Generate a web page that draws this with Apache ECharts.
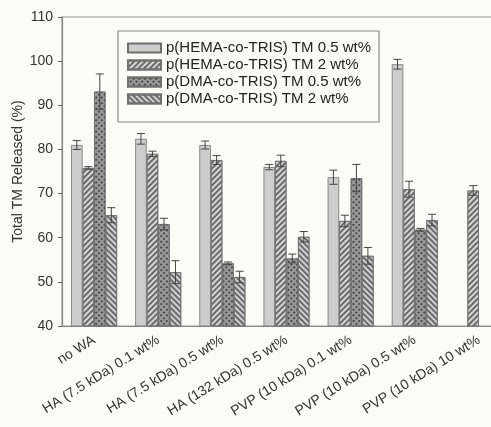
<!DOCTYPE html>
<html>
<head>
<meta charset="utf-8">
<script src="https://cdn.jsdelivr.net/npm/echarts@6/dist/echarts.min.js"></script>
<style>html,body{margin:0;padding:0;background:#fcfcf7;overflow:hidden;width:491px;height:427px;}#c{width:511px;height:427px;}</style>
</head>
<body>
<div id="c"></div>
<script>
const categories = ['no WA','HA (7.5 kDa) 0.1 wt%','HA (7.5 kDa) 0.5 wt%','HA (132 kDa) 0.5 wt%','PVP (10 kDa) 0.1 wt%','PVP (10 kDa) 0.5 wt%','PVP (10 kDa) 10 wt%'];
const seriesNames = ['p(HEMA-co-TRIS) TM 0.5 wt%','p(HEMA-co-TRIS) TM 2 wt%','p(DMA-co-TRIS) TM 0.5 wt%','p(DMA-co-TRIS) TM 2 wt%'];
const hema05 = [81, 82.4, 81, 76, 73.7, 99.3, null];
const hema05Err = [1, 1.2, 0.9, 0.6, 1.6, 1.1, null];
const hema2 = [75.8, 79, 77.6, 77.4, 63.8, 71, 70.7];
const hema2Err = [0.3, 0.6, 1.0, 1.3, 1.3, 1.8, 1.1];
const dma05 = [93.1, 63.1, 54.2, 55.3, 73.5, 61.8, null];
const dma05Err = [4, 1.3, 0.3, 1, 3.1, 0.3, null];
const dma2 = [65.1, 52.2, 51.1, 60.2, 55.9, 64, null];
const dma2Err = [1.7, 2.6, 1.3, 1.2, 1.9, 1.3, null];
const yTicks = [40, 50, 60, 70, 80, 90, 100, 110];

const values = [hema05, hema2, dma05, dma2];
const errs = [hema05Err, hema2Err, dma05Err, dma2Err];
const BW = 11.5;
const fills = ['#cdcdcd', '#d6d6d6', '#9a9a9a', '#d0d0d0'];
const decals = [
  null,
  {symbol:'rect', rotation: -Math.PI/4, dashArrayX:[[1,0]], dashArrayY:[1.5,1.8], color:'#6a6a6a', symbolSize:1},
  {symbol:'rect', rotation: Math.PI/4, dashArrayX:[1.5,1.5], dashArrayY:[1.5,1.5], color:'#4a4a4a', symbolSize:1},
  {symbol:'rect', rotation: Math.PI/4, dashArrayX:[[1,0]], dashArrayY:[1.5,1.8], color:'#6a6a6a', symbolSize:1}
];

const series = [];
values.forEach((v, i) => {
  const is = {color: fills[i], borderColor: '#707070', borderWidth: 0.8};
  if (decals[i]) is.decal = decals[i];
  series.push({name: seriesNames[i], type: 'bar', data: v, barWidth: BW, barGap: '0%', itemStyle: is, animation: false});
});
values.forEach((v, i) => {
  const off = (i - 1.5) * BW;
  series.push({
    type: 'custom', animation: false, silent: true, z: 5,
    data: v.map((val, k) => val == null ? null : [k, val, errs[i][k]]).filter(d => d),
    renderItem: function (params, api) {
      const k = api.value(0), val = api.value(1), e = api.value(2);
      const hi = api.coord([k, val + e]);
      const lo = api.coord([k, val - e]);
      const x = hi[0] + off;
      const cw = 4;
      const st = {stroke: '#444', lineWidth: 1, fill: null};
      return {type: 'group', children: [
        {type: 'line', shape: {x1: x, y1: hi[1], x2: x, y2: lo[1]}, style: st},
        {type: 'line', shape: {x1: x - cw, y1: hi[1], x2: x + cw, y2: hi[1]}, style: st},
        {type: 'line', shape: {x1: x - cw, y1: lo[1], x2: x + cw, y2: lo[1]}, style: st}
      ]};
    }
  });
});

const chart = echarts.init(document.getElementById('c'), null, {renderer: 'canvas'});
chart.setOption({
  backgroundColor: '#fcfcf7',
  textStyle: {fontFamily: 'Liberation Sans, Arial, sans-serif'},
  grid: {left: 62, top: 17, right: 0, bottom: 101, outerBoundsMode: 'none', containLabel: false, show: true, borderColor: '#999', borderWidth: 1.2, backgroundColor: 'transparent'},
  legend: {
    data: seriesNames, orient: 'vertical', left: 118, top: 31,
    icon: 'rect',
    itemWidth: 33, itemHeight: 9, itemGap: 1,
    padding: [9, 8, 15, 9],
    borderColor: '#888', borderWidth: 1.2, backgroundColor: '#fcfcf7',
    textStyle: {fontSize: 15, lineHeight: 16, color: '#222', fontFamily: 'Liberation Sans, Arial, sans-serif'}
  },
  xAxis: {
    type: 'category', data: categories,
    axisLine: {lineStyle: {color: '#888', width: 1.2}},
    axisTick: {alignWithLabel: true, length: 4, lineStyle: {color: '#666'}},
    axisLabel: {rotate: 32, fontSize: 14, color: '#333', margin: 13, interval: 0}
  },
  yAxis: {
    type: 'value', min: yTicks[0], max: yTicks[yTicks.length - 1], interval: 10,
    name: 'Total TM Released (%)', nameLocation: 'middle', nameGap: 37, nameRotate: 90, nameMoveOverlap: false,
    nameTextStyle: {fontSize: 14, color: '#333'},
    axisLine: {show: true, lineStyle: {color: '#888', width: 1.2}},
    axisTick: {show: true, length: 4, lineStyle: {color: '#666'}},
    axisLabel: {fontSize: 14, color: '#333', margin: 9},
    splitLine: {show: false}
  },
  series: series
});
</script>
</body>
</html>
